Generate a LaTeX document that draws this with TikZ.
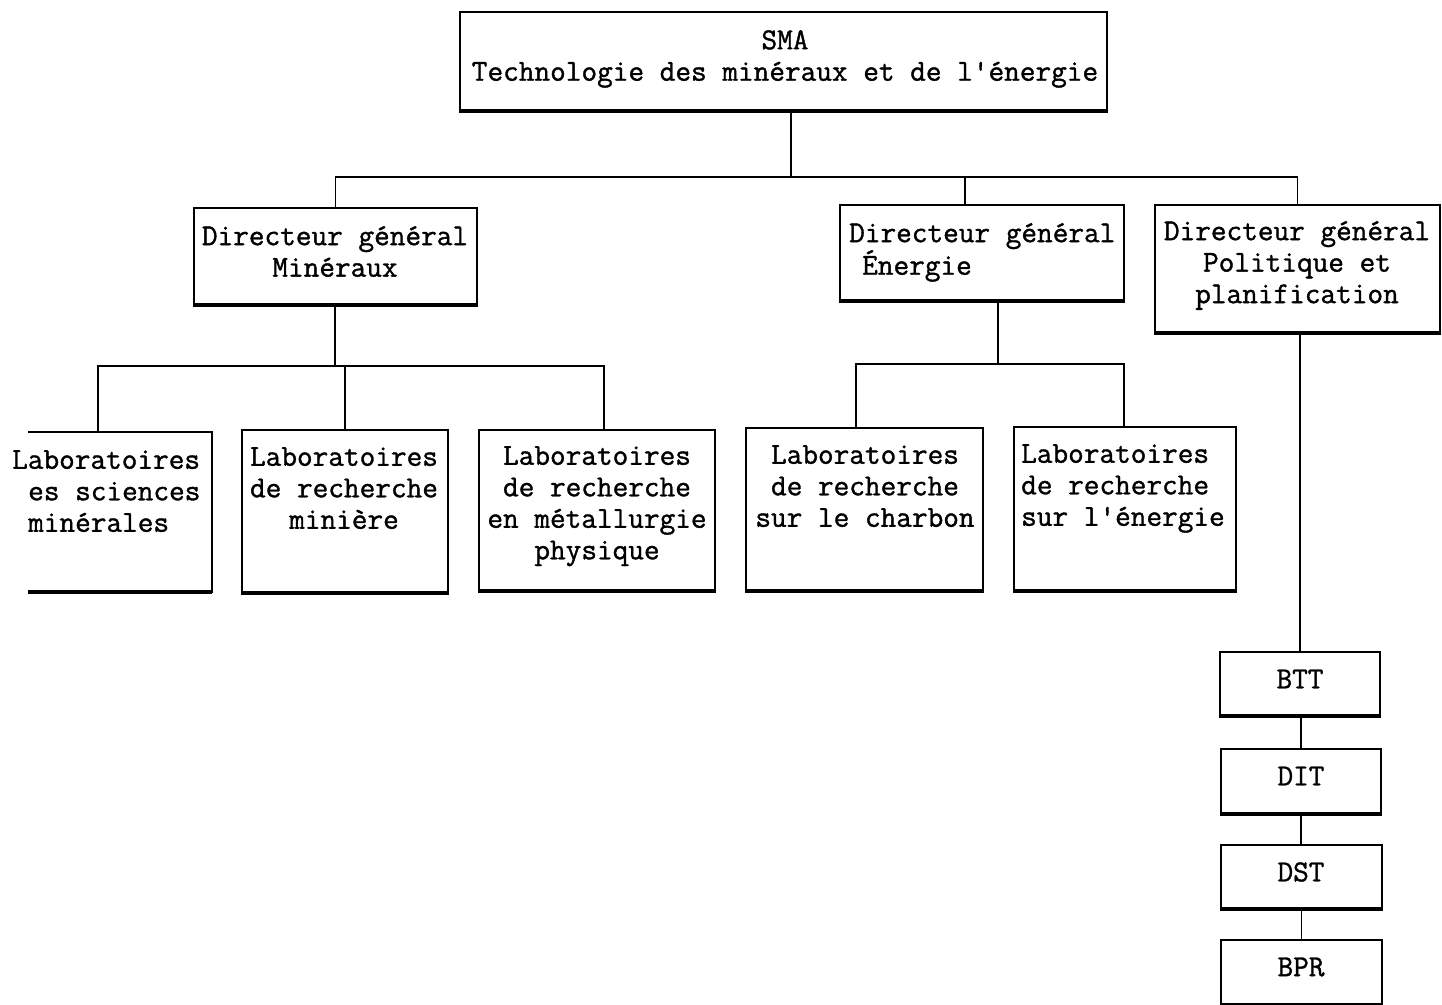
\documentclass[tikz,border=0pt]{standalone}
\usepackage{fontspec}
\setmonofont{Latin Modern Mono}[FakeBold=1.2]
\usetikzlibrary{fit}
\begin{document}
\begin{tikzpicture}[x=1pt,y=-1pt,
  box/.style={draw, line width=2pt, inner sep=0pt},
  openbox/.style={draw=none, inner sep=0pt},
  bot/.style={line width=3.5pt},
  conn/.style={line width=1.8pt},
  txt/.style={font=\ttfamily\fontsize{30.4}{31.5}\selectfont, inner sep=0pt, anchor=north, align=center},
  txtl/.style={txt, anchor=north west, align=left},
  tsmall/.style={txt, anchor=center},
]
\useasboundingbox (0,0) rectangle (1442,1004);

% boxes
\node[box, fit={(460,12) (1107,110)}] (sma) {};
\node[box, fit={(194,208) (477,304)}] (dmin) {};
\node[box, fit={(840,205) (1124,300)}] (den) {};
\node[box, fit={(1155,205) (1440,332)}] (dpol) {};
\node[openbox, fit={(28,432) (212,592)}] (lab1) {};
\draw[line width=2pt] (lab1.north west) -- (lab1.north east) -- (lab1.south east) -- (lab1.south west);
\node[box, fit={(242,430) (448,592)}] (lab2) {};
\node[box, fit={(479,430) (715,590)}] (lab3) {};
\node[box, fit={(746,428) (983,590)}] (lab4) {};
\node[box, fit={(1014,427) (1236,590)}] (lab5) {};
\node[box, fit={(1220,652) (1380,715)}] (btt) {};
\node[box, fit={(1221,749) (1381,813)}] (dit) {};
\node[box, fit={(1221,845) (1382,908)}] (dst) {};
\node[box, fit={(1221,940) (1382,1004)}] (bpr) {};

\foreach \n in {sma,dmin,den,dpol,lab1,lab2,lab3,lab4,lab5,btt,dit,dst,bpr}
  \draw[bot] (\n.south west) -- (\n.south east);

% texts
\node[txt] (sma-t) at (785,30) {SMA\\Technologie des minéraux et de l'énergie};
\node[txt] (dmin-t) at (335,226) {Directeur général\\Minéraux};
\node[txtl] (den-t) at (849,223) {Directeur général\\\hspace*{13pt}Énergie};
\node[txt] (dpol-t) at (1297,221) {Directeur général\\Politique et\\planification};
\node[txtl] (lab1-t) at (12,450) {Laboratoires\\\hspace*{16pt}es sciences\\\hspace*{16pt}minérales};
\node[txt] (lab2-t) at (344,447) {Laboratoires\\de recherche\\minière};
\node[txt] (lab3-t) at (597,446) {Laboratoires\\de recherche\\en métallurgie\\physique};
\node[txt] (lab4-t) at (865,445) {Laboratoires\\de recherche\\sur le charbon};
\node[txtl] (lab5-t) at (1021,444) {Laboratoires\\de recherche\\sur l'énergie};
\node[tsmall] (btt-t) at (1300,679) {BTT};
\node[tsmall] (dit-t) at (1301,776) {DIT};
\node[tsmall] (dst-t) at (1301,872) {DST};
\node[tsmall] (bpr-t) at (1301,967) {BPR};

% connectors
\coordinate (j0) at (791,177);
\coordinate (je) at (965,177);
\draw[conn] (sma.south -| j0) -- (j0);
\draw[conn] (dmin.north) |- (j0) -| (dpol.north);
\draw[conn] (je) -- (je |- den.north);

\coordinate (j1) at (335,366);
\coordinate (m1) at (98,366);
\coordinate (m3) at (604,366);
\draw[conn] (j1 |- dmin.south) -- (j1);
\draw[conn] (m1 |- lab1.north) -- (m1) -- (m3) -- (m3 |- lab3.north);
\draw[conn] (lab2.north) -- (lab2.north |- m1);

\coordinate (j2) at (998,364);
\coordinate (e1) at (856,364);
\coordinate (e2) at (1124,364);
\draw[conn] (j2 |- den.south) -- (j2);
\draw[conn] (e1 |- lab4.north) -- (e1) -- (e2) -- (e2 |- lab5.north);

\draw[conn] (btt.north |- dpol.south) -- (btt.north);
\draw[conn] (btt.south -| dit.north) -- (dit.north);
\draw[conn] (dit.south) -- (dit.south |- dst.north);
\draw[conn] (dst.south) -- (bpr.north);
\end{tikzpicture}
\end{document}
